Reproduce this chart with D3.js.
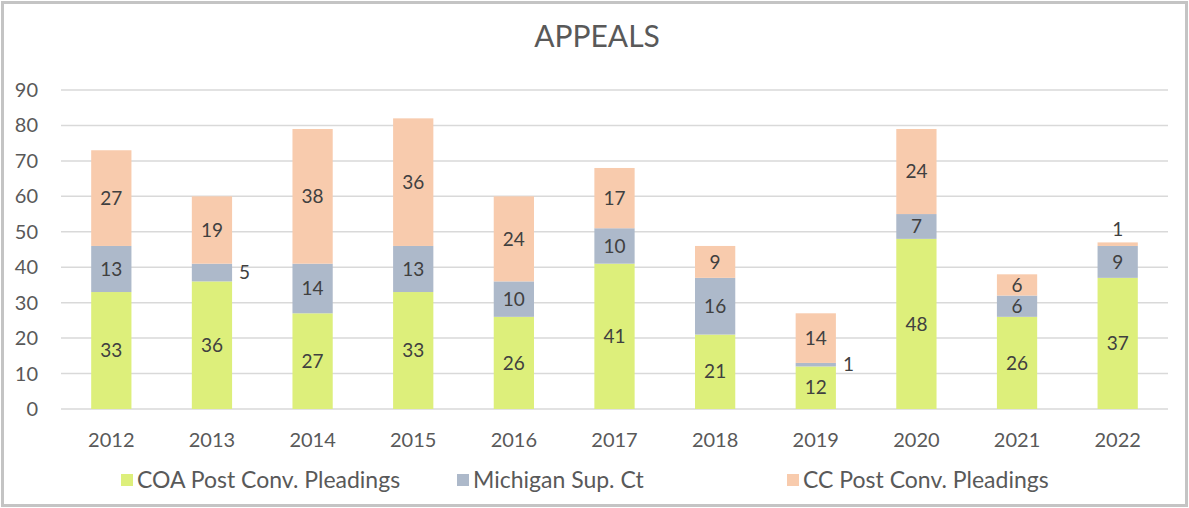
<!DOCTYPE html>
<html>
<head>
<meta charset="utf-8">
<script src="https://cdn.jsdelivr.net/npm/d3@7"></script>
<style>
  body { margin: 0; background: #fff; }
  svg { display: block; font-family: Lato, "Open Sans", sans-serif; }
</style>
</head>
<body>
<div id="chart"></div>
<script>
// data
var years = ["2012", "2013", "2014", "2015", "2016", "2017", "2018", "2019", "2020", "2021", "2022"];
var seriesNames = ["COA Post Conv. Pleadings", "Michigan Sup. Ct", "CC Post Conv. Pleadings"];
var coa = [33, 36, 27, 33, 26, 41, 21, 12, 48, 26, 37];
var michigan = [13, 5, 14, 13, 10, 10, 16, 1, 7, 6, 9];
var cc = [27, 19, 38, 36, 24, 17, 9, 14, 24, 6, 1];
var yTicks = [0, 10, 20, 30, 40, 50, 60, 70, 80, 90];

var colors = ["#ddef7b", "#adb9ca", "#f8cbad"];

var svgWidth = 1189, svgHeight = 508;
var margin = { top: 90, left: 61, right: 21, bottom: 99 };
var width = svgWidth - margin.left - margin.right;
var height = svgHeight - margin.top - margin.bottom;

var svg = d3.select("#chart").append("svg")
  .attr("width", svgWidth)
  .attr("height", svgHeight);

// outer frame
svg.append("rect")
  .attr("x", 2.5).attr("y", 2.5)
  .attr("width", svgWidth - 5).attr("height", svgHeight - 5)
  .attr("fill", "#fff")
  .attr("stroke", "#c4c4c4")
  .attr("stroke-width", 3);

svg.append("text")
  .attr("x", 597).attr("y", 47)
  .attr("text-anchor", "middle")
  .attr("font-size", "30px")
  .attr("fill", "#595959")
  .text("APPEALS");

var chartGroup = svg.append("g")
  .attr("transform", `translate(${margin.left}, ${margin.top})`);

var x = d3.scaleBand().domain(years).range([0, width]).paddingInner(0.6).paddingOuter(0.3);
var y = d3.scaleLinear().domain([0, 90]).range([height, 0]);

// gridlines
chartGroup.append("g")
  .selectAll("line")
  .data(yTicks)
  .enter()
  .append("line")
  .attr("x1", 0).attr("x2", width)
  .attr("y1", d => y(d)).attr("y2", d => y(d))
  .attr("stroke", "#d9d9d9")
  .attr("stroke-width", 1.5);

// y labels
chartGroup.append("g")
  .selectAll("text")
  .data(yTicks)
  .enter()
  .append("text")
  .attr("x", -23)
  .attr("y", d => y(d))
  .attr("dy", "0.35em")
  .attr("text-anchor", "end")
  .attr("font-size", "20px")
  .attr("fill", "#595959")
  .text(d => d);

// x labels
chartGroup.append("g")
  .selectAll("text")
  .data(years)
  .enter()
  .append("text")
  .attr("x", d => x(d) + x.bandwidth() / 2)
  .attr("y", height + 31)
  .attr("dy", "0.35em")
  .attr("text-anchor", "middle")
  .attr("font-size", "20px")
  .attr("fill", "#595959")
  .text(d => d);

var table = years.map(function(yr, i) {
  return { year: yr, coa: coa[i], michigan: michigan[i], cc: cc[i] };
});
var keys = ["coa", "michigan", "cc"];
var stacked = d3.stack().keys(keys)(table);

var layers = chartGroup.selectAll(".layer")
  .data(stacked)
  .enter()
  .append("g")
  .attr("fill", (d, i) => colors[i]);

layers.selectAll("rect")
  .data(d => d)
  .enter()
  .append("rect")
  .attr("x", d => x(d.data.year))
  .attr("y", d => y(d[1]))
  .attr("width", x.bandwidth())
  .attr("height", d => y(d[0]) - y(d[1]));

// value labels: small inner segments go to the right, tiny top segment goes above
stacked.forEach(function(layer, li) {
  chartGroup.append("g")
    .selectAll("text")
    .data(layer)
    .enter()
    .append("text")
    .attr("x", function(d) {
      var v = d[1] - d[0];
      if (li < 2 && v <= 5) return x(d.data.year) + x.bandwidth() + 7;
      return x(d.data.year) + x.bandwidth() / 2;
    })
    .attr("y", function(d) {
      var v = d[1] - d[0];
      if (li === 2 && v <= 2) return y(d[1]) - 13;
      return y((d[0] + d[1]) / 2);
    })
    .attr("dy", "0.35em")
    .attr("text-anchor", function(d) {
      return (li < 2 && d[1] - d[0] <= 5) ? "start" : "middle";
    })
    .attr("font-size", "19px")
    .attr("fill", "#404040")
    .text(d => d[1] - d[0]);
});

// legend
var legendX = [121, 457, 787];
var legend = svg.append("g");
seriesNames.forEach(function(name, i) {
  legend.append("rect")
    .attr("x", legendX[i]).attr("y", 474)
    .attr("width", 12).attr("height", 12)
    .attr("fill", colors[i]);
  legend.append("text")
    .attr("x", legendX[i] + 16).attr("y", 480)
    .attr("dy", "0.35em")
    .attr("font-size", "23px")
    .attr("fill", "#595959")
    .text(name);
});
</script>
</body>
</html>
